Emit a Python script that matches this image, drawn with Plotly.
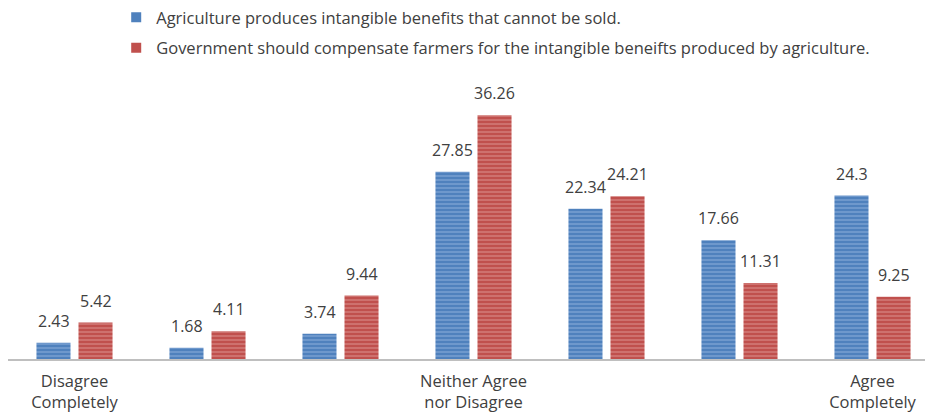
import plotly.graph_objects as go

categories = ["Disagree<br>Completely", "", "", "Neither Agree<br>nor Disagree", "", "", "Agree<br>Completely"]
series_names = [
    "Agriculture produces intangible benefits that cannot be sold.",
    "Government should compensate farmers for the intangible beneifts produced by agriculture.",
]
benefits = [2.43, 1.68, 3.74, 27.85, 22.34, 17.66, 24.3]
compensate = [5.42, 4.11, 9.44, 36.26, 24.21, 11.31, 9.25]

colors = ["#4F81BD", "#C0504D"]
pattern_fg = ["#9DBBE3", "#E5A3A1"]

x = list(range(len(categories)))
fig = go.Figure()
for i, (name, vals) in enumerate(zip(series_names, [benefits, compensate])):
    fig.add_trace(go.Bar(
        x=x, y=vals, name=name, showlegend=False,
        marker=dict(color=colors[i], line=dict(width=0),
                    pattern=dict(shape="-", fgcolor=pattern_fg[i], bgcolor=colors[i], size=4, solidity=0.4)),
    ))
    for xi, v in zip(x, vals):
        fig.add_annotation(x=xi, y=v, xref="x", yref="y", text=f"{v:g}", showarrow=False,
                           xshift=(-21 if i == 0 else 21), yshift=9, yanchor="bottom",
                           font=dict(size=16, color="#404040"))
for i, name in enumerate(series_names):
    fig.add_trace(go.Scatter(
        x=[None], y=[None], name=name, mode="markers", legendgroup=f"g{i}",
        marker=dict(symbol="square", size=10, color=colors[i]),
    ))

fig.update_layout(
    width=925, height=418,
    margin=dict(l=8, r=0, t=90, b=59),
    paper_bgcolor="white", plot_bgcolor="white",
    font=dict(family="Open Sans, sans-serif", color="#404040"),
    barmode="group", bargap=0.368, bargroupgap=0.19,
    showlegend=True,
    legend=dict(x=0.118, y=1.0, yref="container", xanchor="left", yanchor="top",
                orientation="v", font=dict(size=16.5, color="#404040"),
                traceorder="grouped", tracegroupgap=6, itemwidth=30,
                bgcolor="rgba(0,0,0,0)"),
)
fig.update_xaxes(
    tickmode="array", tickvals=x, ticktext=categories,
    range=[-0.5, -0.5 + 917 / 133], showgrid=False,
    showline=True, linecolor="#BFBFBF", linewidth=2,
    ticks="", tickfont=dict(size=16.5, color="#404040"), ticklabelstandoff=6,
)
fig.update_yaxes(range=[0, 40], visible=False, showgrid=False)

fig.write_html("out.html")
